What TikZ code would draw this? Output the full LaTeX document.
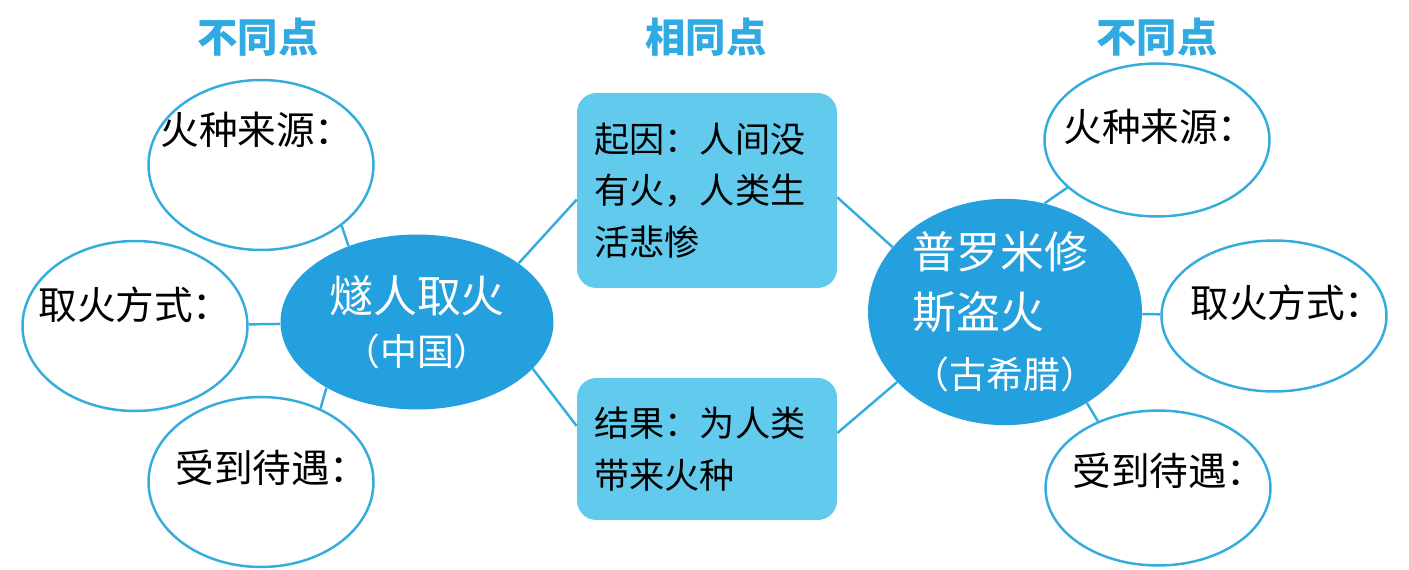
\documentclass[tikz,border=0pt]{standalone}
\usepackage{fontspec}
\setmainfont{Noto Sans CJK SC}
\usepackage{xcolor}
\usetikzlibrary{shapes.geometric,positioning,calc}
\definecolor{fireblue}{RGB}{36,160,222}
\definecolor{boxcyan}{RGB}{98,202,236}
\definecolor{rimcyan}{RGB}{52,172,222}
\definecolor{headcyan}{RGB}{48,170,226}

\begin{document}
\begin{tikzpicture}[
  x=0.02cm, y=-0.02cm,
  blank/.style={ellipse, draw=rimcyan, line width=1.4pt, fill=white,
                minimum width=4.5cm, minimum height=3.4cm, inner sep=0pt},
  hub/.style={ellipse, fill=fireblue, text=white, align=center, inner sep=0pt,
              font=\fontsize{25}{30}\selectfont},
  card/.style={rectangle, rounded corners=11pt, fill=boxcyan, align=left,
               text width=4.5cm, inner xsep=0.35cm, inner ysep=0pt,
               font=\fontsize{20}{29.5}\selectfont},
  head/.style={font=\fontsize{23}{23}\selectfont\bfseries, text=headcyan, inner sep=0pt},
  ask/.style={anchor=west, inner sep=0pt, font=\fontsize{22}{26}\selectfont},
  link/.style={draw=rimcyan, line width=1.4pt}]

  \useasboundingbox (0,0) rectangle (1409,570);

  % ---------- headings ----------
  \node[head] (hdl) at (258,37)  {不同点};
  \node[head] (hdm) at (706,37)  {相同点};
  \node[head] (hdr) at (1157,37) {不同点};

  % ---------- left: 燧人取火 ----------
  \node[hub, minimum width=5.46cm, minimum height=3.5cm] (cl) at (417,322)
       {燧人取火\\{\fontsize{21}{21}\selectfont （中国）}};
  \node[blank] (tl) at (261,165) {};
  \node[blank] (ml) at (135,326) {};
  \node[blank] (bl) at (261,482) {};
  \node[ask] (tltx) at ($(tl)+(-101,-35)$) {火种来源：};
  \node[ask] (mltx) at ($(ml)+(-97,-21)$)  {取火方式：};
  \node[ask] (bltx) at ($(bl)+(-86,-14)$)  {受到待遇：};

  % ---------- middle: common points ----------
  \node[card, minimum height=3.9cm]  (tb) at (707,190.5) {起因：人间没\\有火，人类生\\活悲惨};
  \node[card, minimum height=2.84cm] (bb) at (707,449)   {结果：为人类\\带来火种};

  % ---------- right: 普罗米修斯盗火 ----------
  \node[hub, align=left, minimum width=5.48cm, minimum height=3.92cm,
        font=\fontsize{25}{34}\selectfont] (r) at (1005,312)
       {普罗米修\\斯盗火\\{\fontsize{21}{21}\selectfont （古希腊）}};
  \node[blank, minimum height=3.06cm] (tr) at (1157,140) {};
  \node[blank, minimum height=3.02cm] (mr) at (1274,316) {};
  \node[blank, minimum height=3.1cm]  (br) at (1158,488) {};
  \node[ask] (trtx) at ($(tr)+(-94,-13)$) {火种来源：};
  \node[ask] (mrtx) at ($(mr)+(-84,-13)$) {取火方式：};
  \node[ask] (brtx) at ($(br)+(-86,-17)$) {受到待遇：};

  % ---------- connectors ----------
  \draw[link] (tl.-37) -- (cl.132);
  \draw[link] (ml) -- (cl);
  \draw[link] (bl.51) -- (cl.216);
  \draw[link] (cl.30) -- (tb.184);
  \draw[link] (cl.-22) -- (bb.170);
  \draw[link] (tb.-3) -- (r.150);
  \draw[link] (bb.7) -- (r.213);
  \draw[link] (tr.208) -- (r.70);
  \draw[link] (mr) -- (r);
  \draw[link] (br.132) -- (r.-48);

\end{tikzpicture}
\end{document}
